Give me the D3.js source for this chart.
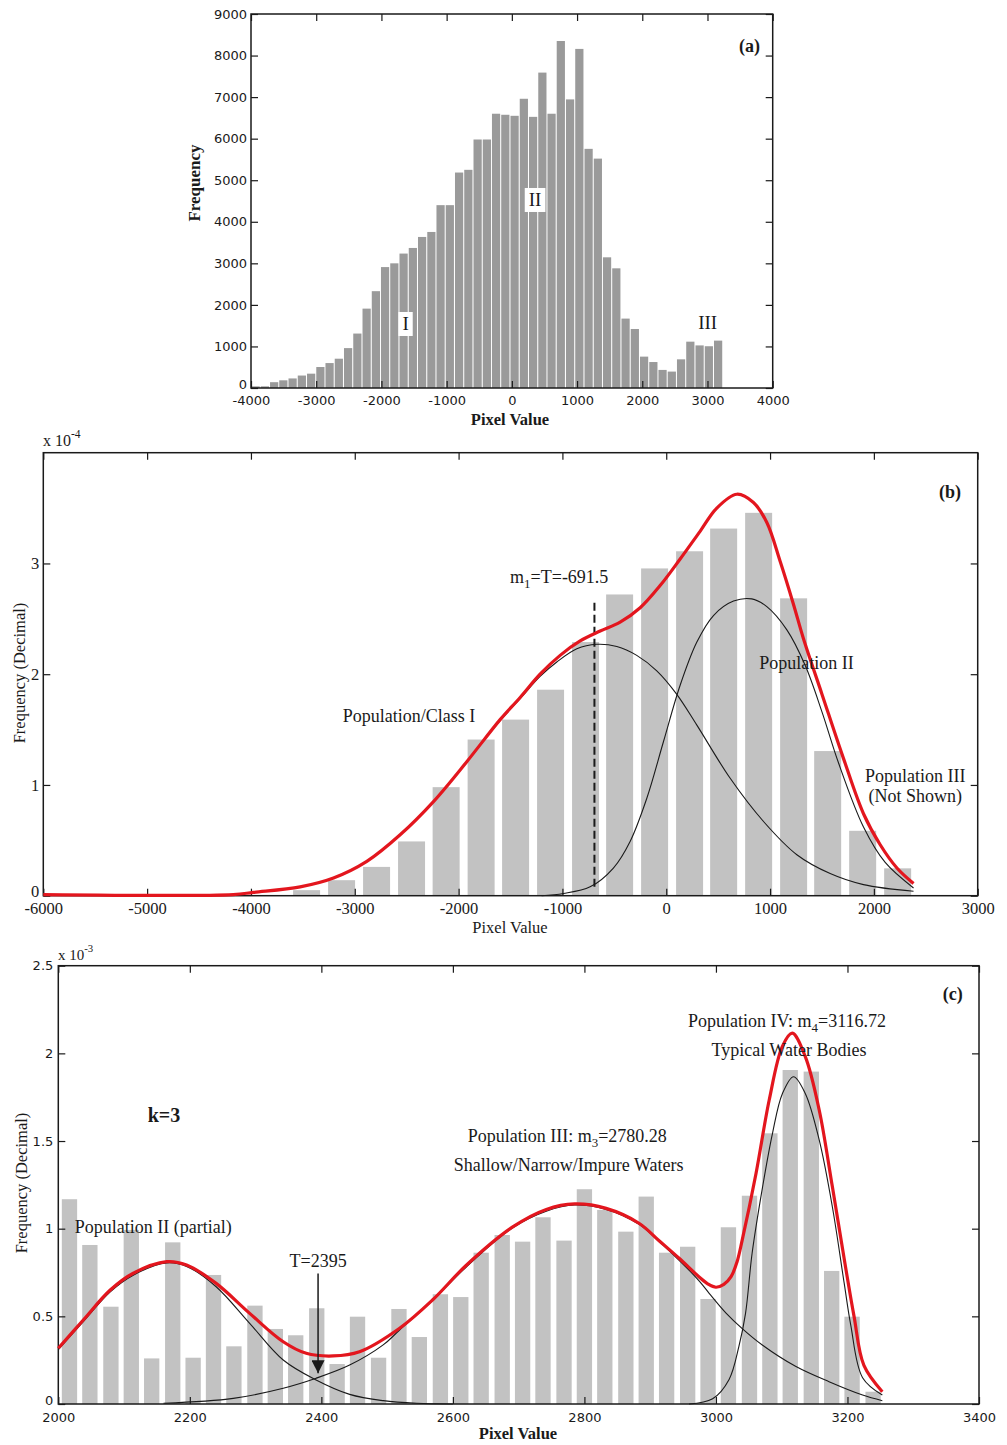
<!DOCTYPE html>
<html>
<head>
<meta charset="utf-8">
<script src="https://cdn.jsdelivr.net/npm/d3@7"></script>
<style>
  body { margin: 0; background: #fff; }
  svg { display: block; }
</style>
</head>
<body>
<script>
// ---- panel (a): raw histogram ----
const aCenters = [-3929, -3787, -3645, -3504, -3362, -3220, -3078, -2936, -2795, -2653,
  -2511, -2369, -2227, -2085, -1944, -1802, -1660, -1518, -1376, -1234,
  -1093, -951, -809, -667, -525, -383, -242, -100, 42, 184,
  326, 468, 609, 751, 893, 1035, 1177, 1319, 1460, 1602,
  1744, 1886, 2028, 2170, 2311, 2453, 2595, 2737, 2879, 3021, 3163];
const aCounts = [40, 40, 140, 185, 230, 300, 345, 505, 600, 705,
  960, 1310, 1910, 2330, 2910, 3000, 3235, 3370, 3635, 3755,
  4400, 4400, 5185, 5250, 5980, 5980, 6600, 6575, 6550, 6960,
  6525, 7590, 6600, 8350, 6945, 8160, 5755, 5520, 3145, 2880,
  1670, 1420, 755, 625, 435, 395, 690, 1115, 1025, 1005, 1140];
const aXTicks = [-4000, -3000, -2000, -1000, 0, 1000, 2000, 3000, 4000];
const aYTicks = [0, 1000, 2000, 3000, 4000, 5000, 6000, 7000, 8000, 9000];

// ---- panel (b): normalised histogram (x 10^-4) and fitted curves ----
const bCenters = [-3464, -3127, -2790, -2453, -2120, -1783, -1451, -1114, -777,
  -449, -112, 225, 553, 890, 1227, 1555, 1892, 2229];
const bFreq = [0.05, 0.14, 0.26, 0.49, 0.98, 1.41, 1.59, 1.86, 2.29,
  2.72, 2.955, 3.11, 3.315, 3.457, 2.685, 1.306, 0.586, 0.247];
const bTotal = [[-6000, 0.01], [-4170, 0.01], [-3977, 0.03], [-3526, 0.08], [-3205, 0.16],
  [-2884, 0.31], [-2563, 0.55], [-2242, 0.85], [-1921, 1.21], [-1600, 1.59], [-1407, 1.79],
  [-1215, 2.0], [-1022, 2.17], [-829, 2.3], [-636, 2.39], [-444, 2.47], [-251, 2.6],
  [-59, 2.8], [134, 3.04], [326, 3.29], [487, 3.5], [680, 3.625], [840, 3.55],
  [969, 3.37], [1097, 3.02], [1226, 2.63], [1322, 2.32], [1500, 1.82], [1707, 1.24],
  [1900, 0.74], [2061, 0.46], [2222, 0.25], [2382, 0.11]];
const bPop1 = [[-6000, 0.01], [-4170, 0.01], [-3977, 0.03], [-3526, 0.08], [-3205, 0.16],
  [-2884, 0.31], [-2563, 0.55], [-2242, 0.85], [-1921, 1.21], [-1600, 1.58], [-1407, 1.78],
  [-1215, 1.98], [-1054, 2.11], [-861, 2.23], [-669, 2.27], [-476, 2.25], [-284, 2.17],
  [-91, 2.03], [100, 1.82], [295, 1.54], [616, 1.06], [937, 0.67], [1258, 0.37],
  [1579, 0.2], [1900, 0.1], [2382, 0.04]];
const bPop2 = [[-1200, 0.0], [-990, 0.02], [-733, 0.08], [-509, 0.25], [-348, 0.49],
  [-187, 0.88], [-27, 1.39], [134, 1.9], [295, 2.29], [455, 2.53], [648, 2.66], [824, 2.68],
  [969, 2.61], [1162, 2.4], [1338, 2.08], [1500, 1.66], [1659, 1.2], [1900, 0.62],
  [2109, 0.3], [2382, 0.07]];
const bThreshold = -691.5;
const bThresholdSpan = [0.08, 2.68];
const bXTicks = [-6000, -5000, -4000, -3000, -2000, -1000, 0, 1000, 2000, 3000];
const bYTicks = [0, 1, 2, 3];

// ---- panel (c): k=3 histogram (x 10^-3) and fitted curves ----
const cCenters = [2017, 2048, 2080, 2111, 2142, 2174, 2205, 2236, 2267, 2299,
  2330, 2361, 2393, 2424, 2455, 2487, 2518, 2549, 2581, 2612,
  2643, 2675, 2706, 2737, 2769, 2800, 2831, 2863, 2894, 2925,
  2957, 2988, 3019, 3051, 3082, 3113, 3145, 3176, 3207, 3239];
const cFreq = [1.168, 0.907, 0.555, 0.993, 0.26, 0.922, 0.264, 0.736, 0.329, 0.561,
  0.428, 0.392, 0.546, 0.228, 0.498, 0.264, 0.542, 0.382, 0.626, 0.61,
  0.863, 0.964, 0.926, 1.065, 0.932, 1.225, 1.107, 0.983, 1.183, 0.863,
  0.897, 0.599, 1.008, 1.188, 1.544, 1.905, 1.896, 0.759, 0.498, 0.07];
const cTotal = [[2000, 0.318], [2038, 0.479], [2079, 0.65], [2114, 0.746], [2165, 0.812],
  [2195, 0.793], [2240, 0.688], [2291, 0.517], [2342, 0.355], [2377, 0.289], [2418, 0.274],
  [2458, 0.298], [2519, 0.432], [2569, 0.593], [2620, 0.79], [2691, 1.01], [2742, 1.11],
  [2785, 1.141], [2833, 1.116], [2883, 1.031], [2914, 0.93], [2944, 0.831], [2974, 0.726],
  [2988, 0.684], [3000, 0.666], [3012, 0.682], [3023, 0.726], [3032, 0.81], [3040, 0.936],
  [3061, 1.316], [3081, 1.734], [3101, 2.04], [3116, 2.115], [3136, 1.98], [3157, 1.677],
  [3177, 1.24], [3197, 0.783], [3210, 0.5], [3225, 0.22], [3253, 0.07]];
const cPop2 = [[2000, 0.31], [2038, 0.47], [2079, 0.64], [2114, 0.735], [2165, 0.805],
  [2195, 0.785], [2240, 0.669], [2291, 0.46], [2342, 0.251], [2392, 0.137], [2443, 0.055],
  [2494, 0.019], [2545, 0.004], [2600, 0.0]];
const cPop3 = [[2160, 0.004], [2266, 0.032], [2342, 0.09], [2392, 0.147], [2443, 0.222],
  [2494, 0.337], [2519, 0.422], [2569, 0.59], [2620, 0.78], [2691, 1.005], [2742, 1.1],
  [2785, 1.135], [2833, 1.11], [2883, 1.025], [2914, 0.925], [2944, 0.82], [2975, 0.7],
  [2990, 0.63], [3015, 0.52], [3040, 0.43], [3071, 0.335], [3121, 0.215], [3172, 0.127],
  [3223, 0.051], [3253, 0.019]];
const cPop4 = [[2959, 0.0], [2995, 0.03], [3020, 0.14], [3035, 0.33], [3045, 0.517],
  [3055, 0.86], [3071, 1.24], [3086, 1.544], [3101, 1.77], [3118, 1.867], [3136, 1.77],
  [3157, 1.506], [3177, 1.125], [3195, 0.689], [3205, 0.45], [3223, 0.15], [3253, 0.051]];
const cThreshold = 2395;
const cArrowSpan = [0.745, 0.175];
const cXTicks = [2000, 2200, 2400, 2600, 2800, 3000, 3200, 3400];
const cYTicks = [0, 0.5, 1, 1.5, 2, 2.5];

const SERIF = "'Liberation Serif', 'Times New Roman', serif";
const SANS = "'DejaVu Sans', Verdana, sans-serif";
const RED = "#e3161e";
const INK = "#1a1a1a";

const svg = d3.select("body").append("svg")
    .attr("width", 1007)
    .attr("height", 1445);

// MATLAB-like box with inward ticks on all four sides
function frame(x, y, xTicks, yTicks, font, size, padX, padY) {
    const [x0, x1] = x.range();
    const [y0, y1] = y.range();
    const g = svg.append("g");
    g.append("g").attr("transform", `translate(0,${y0})`)
        .call(d3.axisBottom(x).tickValues(xTicks).tickSize(-7).tickSizeOuter(0).tickPadding(padX).tickFormat(d => String(d)));
    g.append("g").attr("transform", `translate(0,${y1})`)
        .call(d3.axisTop(x).tickValues(xTicks).tickSize(-7).tickSizeOuter(0).tickFormat(""));
    const left = g.append("g").attr("transform", `translate(${x0},0)`)
        .call(d3.axisLeft(y).tickValues(yTicks).tickSize(-7).tickSizeOuter(0).tickPadding(padY).tickFormat(d => String(d)));
    g.append("g").attr("transform", `translate(${x1},0)`)
        .call(d3.axisRight(y).tickValues(yTicks).tickSize(-7).tickSizeOuter(0).tickFormat(""));
    g.selectAll(".domain").remove();
    g.selectAll("g g").attr("font-family", font).attr("font-size", size);
    g.selectAll(".tick line").attr("stroke", INK).attr("stroke-width", 1.2);
    g.selectAll(".tick text").attr("fill", INK).attr("font-family", font).attr("font-size", size);
    // the zero label sits a little higher so it clears the first x label
    left.selectAll(".tick text").filter(d => d === 0).attr("dy", "0.05em");
    g.append("rect")
        .attr("x", x0).attr("y", y1)
        .attr("width", x1 - x0).attr("height", y0 - y1)
        .attr("fill", "none").attr("stroke", INK).attr("stroke-width", 1.5);
    return g;
}

// text with optional sub/superscript pieces: parts = [[str, "sub"|"sup"|null], ...]
function label(px, py, parts, opts = {}) {
    const t = svg.append("text")
        .attr("x", px).attr("y", py)
        .attr("font-family", opts.font || SERIF)
        .attr("font-size", opts.size || 18)
        .attr("font-weight", opts.weight || "normal")
        .attr("text-anchor", opts.anchor || "start")
        .attr("fill", INK);
    if (opts.rotate) t.attr("transform", `rotate(-90,${px},${py})`);
    let shift = 0;
    (Array.isArray(parts) ? parts : [[parts, null]]).forEach(([s, kind]) => {
        const want = kind === "sub" ? 5 : kind === "sup" ? -8 : 0;
        const sp = t.append("tspan").text(s).attr("dy", want - shift);
        if (kind) sp.attr("font-size", (opts.size || 18) * 0.72);
        shift = want;
    });
    return t;
}

function curve(x, y, pts, color, width) {
    svg.append("path")
        .datum(pts)
        .attr("fill", "none")
        .attr("stroke", color)
        .attr("stroke-width", width)
        .attr("stroke-linejoin", "round")
        .attr("d", d3.line().x(d => x(d[0])).y(d => y(d[1])).curve(d3.curveCatmullRom.alpha(0.5)));
}

// ================= (a) =================
const xA = d3.scaleLinear().domain([-4000, 4000]).range([251, 772.7]);
const yA = d3.scaleLinear().domain([0, 9000]).range([388, 14]);
const aBarW = 126;

svg.append("g").attr("fill", "#9a9a9a")
  .selectAll("rect")
  .data(aCounts)
  .join("rect")
    .attr("x", (d, i) => xA(aCenters[i] - aBarW / 2))
    .attr("width", xA(aBarW) - xA(0))
    .attr("y", d => yA(d))
    .attr("height", d => yA(0) - yA(d));

frame(xA, yA, aXTicks, aYTicks, SANS, 13, 8, 4);

// roman numeral tags, I and II sit on a white patch
[["I", -1630, 1396, true], ["II", 356, 4380, true], ["III", 3002, 1420, false]].forEach(([s, vx, vy, boxed]) => {
    const t = label(xA(vx), yA(vy), s, {anchor: "middle", size: 19});
    if (boxed) {
        const b = t.node().getBBox();
        svg.insert("rect", () => t.node())
            .attr("x", b.x - 4).attr("y", b.y - 1)
            .attr("width", b.width + 8).attr("height", b.height + 3)
            .attr("fill", "#fff");
    }
});
label(xA(3646), yA(8085), "(a)", {anchor: "middle", size: 18, weight: "bold"});
label(510, 425, "Pixel Value", {anchor: "middle", size: 16.5, weight: "bold"});
label(200, 183, "Frequency", {anchor: "middle", size: 17, weight: "bold", rotate: true});

// ================= (b) =================
const xB = d3.scaleLinear().domain([-6000, 3000]).range([43.3, 977.7]);
const yB = d3.scaleLinear().domain([0, 4]).range([895.7, 452.7]);
const bBarW = 260;

svg.append("g").attr("fill", "#c2c2c2")
  .selectAll("rect")
  .data(bFreq)
  .join("rect")
    .attr("x", (d, i) => xB(bCenters[i] - bBarW / 2))
    .attr("width", xB(bBarW) - xB(0))
    .attr("y", d => yB(d))
    .attr("height", d => yB(0) - yB(d));

frame(xB, yB, bXTicks, bYTicks, SERIF, 16.5, 7, 4);

curve(xB, yB, bPop1, INK, 1.1);
curve(xB, yB, bPop2, INK, 1.1);
svg.append("line")
    .attr("x1", xB(bThreshold)).attr("x2", xB(bThreshold))
    .attr("y1", yB(bThresholdSpan[0])).attr("y2", yB(bThresholdSpan[1]))
    .attr("stroke", INK).attr("stroke-width", 2).attr("stroke-dasharray", "8,4");
curve(xB, yB, bTotal, RED, 3.2);

label(xB(-1504), yB(2.82), [["m", null], ["1", "sub"], ["=T=-691.5", null]], {size: 18});
label(xB(-3115), yB(1.57), "Population/Class I", {size: 18});
label(xB(895), yB(2.05), "Population II", {size: 18});
label(xB(2398), yB(1.03), "Population III", {anchor: "middle", size: 18});
label(xB(2398), yB(0.85), "(Not Shown)", {anchor: "middle", size: 18});
label(xB(2733), yB(3.59), "(b)", {anchor: "middle", size: 18, weight: "bold"});
label(43, 445.7, [["x 10", null], ["-4", "sup"]], {size: 16});
label(510, 933, "Pixel Value", {anchor: "middle", size: 16.5});
label(25, 673, "Frequency (Decimal)", {anchor: "middle", size: 16.5, rotate: true});

// ================= (c) =================
const xC = d3.scaleLinear().domain([2000, 3400]).range([58.3, 979]);
const yC = d3.scaleLinear().domain([0, 2.5]).range([1404, 965.7]);
const cBarW = 23.3;

svg.append("g").attr("fill", "#c2c2c2")
  .selectAll("rect")
  .data(cFreq)
  .join("rect")
    .attr("x", (d, i) => xC(cCenters[i] - cBarW / 2))
    .attr("width", xC(cBarW) - xC(0))
    .attr("y", d => yC(d))
    .attr("height", d => yC(0) - yC(d));

frame(xC, yC, cXTicks, cYTicks, SANS, 13, 8.5, 5);

curve(xC, yC, cPop2, INK, 1.1);
curve(xC, yC, cPop3, INK, 1.1);
curve(xC, yC, cPop4, INK, 1.1);
curve(xC, yC, cTotal, RED, 3.2);

// threshold arrow
svg.append("defs").append("marker")
    .attr("id", "head")
    .attr("viewBox", "0 0 10 10")
    .attr("refX", 10).attr("refY", 5)
    .attr("markerWidth", 14).attr("markerHeight", 13)
    .attr("markerUnits", "userSpaceOnUse")
    .attr("orient", "auto")
  .append("path").attr("d", "M0,0L10,5L0,10Z").attr("fill", INK);
svg.append("line")
    .attr("x1", xC(cThreshold)).attr("x2", xC(cThreshold))
    .attr("y1", yC(cArrowSpan[0])).attr("y2", yC(cArrowSpan[1]))
    .attr("stroke", INK).attr("stroke-width", 1.5)
    .attr("marker-end", "url(#head)");

label(xC(2136), yC(1.61), "k=3", {size: 20, weight: "bold"});
label(xC(2025), yC(0.977), "Population II (partial)", {size: 18});
label(xC(cThreshold), yC(0.78), "T=2395", {anchor: "middle", size: 18});
label(xC(2774), yC(1.493), [["Population III: m", null], ["3", "sub"], ["=2780.28", null]], {anchor: "middle", size: 18});
label(xC(2776), yC(1.329), "Shallow/Narrow/Impure Waters", {anchor: "middle", size: 18});
label(xC(3108), yC(2.152), [["Population IV: m", null], ["4", "sub"], ["=3116.72", null]], {anchor: "middle", size: 18});
label(xC(3111), yC(1.985), "Typical Water Bodies", {anchor: "middle", size: 18});
label(xC(3360), yC(2.305), "(c)", {anchor: "middle", size: 18, weight: "bold"});
label(58, 960, [["x 10", null], ["-3", "sup"]], {size: 15});
label(518, 1439, "Pixel Value", {anchor: "middle", size: 16.5, weight: "bold"});
label(27, 1183, "Frequency (Decimal)", {anchor: "middle", size: 16.5, rotate: true});
</script>
</body>
</html>
